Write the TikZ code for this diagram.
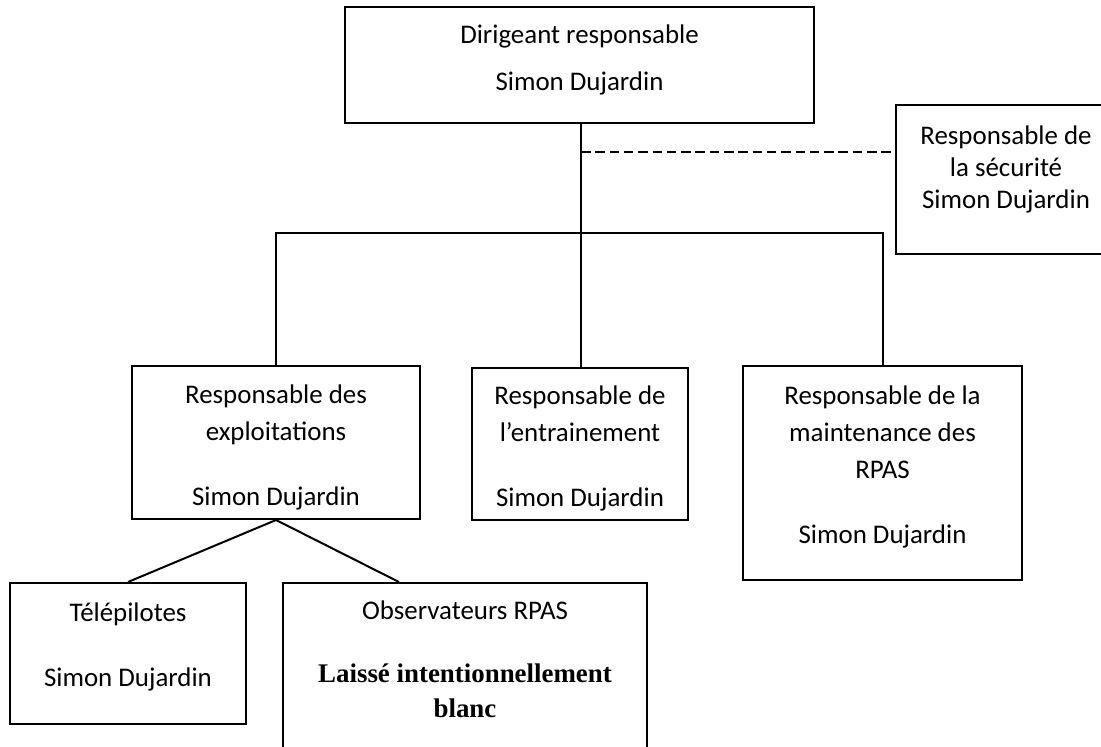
\documentclass[tikz,border=0pt]{standalone}
\usepackage{fontspec}
\setmainfont{Carlito}
\newfontfamily\serifbold{Liberation Serif}
\usetikzlibrary{positioning}

% invisible struts to move the text inside a box
\newcommand\liftbox[1]{\rule[-#1]{0pt}{0pt}}
\newcommand\sinkbox[1]{\rule{0pt}{#1}}

\begin{document}
\begin{tikzpicture}[x=0.5pt, y=-0.5pt,
		box/.style={draw, line width=1pt, align=center, inner sep=0pt,
			font=\fontsize{13.45}{18.5}\selectfont},
		link/.style={line width=1pt}]
		\useasboundingbox (0,0) rectangle (1101,746);
		\clip (0,0) rectangle (1101,746);

		\node[box, minimum width=234.5pt, minimum height=58pt]   (dirig)    at (579.5,65)   {Dirigeant responsable\\[5pt]Simon Dujardin\liftbox{7.5pt}};
		\node[box, minimum width=110pt, minimum height=74.5pt]   (secu)     at (1006,179.5) {Responsable de\\[-2.5pt]la sécurité\\[-2.5pt]Simon Dujardin\liftbox{12.5pt}};
		\node[box, minimum width=144pt, minimum height=76.5pt]   (exploit)  at (276,442.5)  {\sinkbox{14.6pt}Responsable des\\exploitations\\[14pt]Simon Dujardin};
		\node[box, minimum width=108pt, minimum height=76pt]     (entrain)  at (580,444)    {\sinkbox{13.6pt}Responsable de\\l’entrainement\\[14pt]Simon Dujardin};
		\node[box, minimum width=139.5pt, minimum height=107pt]  (maint)    at (882.5,473)  {Responsable de la\\maintenance des\\RPAS\\[14pt]Simon Dujardin\liftbox{8pt}};
		\node[box, minimum width=118pt, minimum height=70.5pt]   (telepil)  at (128,653.5)  {Télépilotes\\[14pt]Simon Dujardin\liftbox{8.5pt}};
		\node[box, minimum width=182pt, minimum height=103.5pt]  (observ)   at (465,686.5)  {Observateurs RPAS\\[13pt]{\serifbold\bfseries Laissé intentionnellement}\\[-1pt]{\serifbold\bfseries blanc}\liftbox{27pt}};

		\coordinate (split) at (581,233);
		\coordinate (tap)   at (581,152);

		\draw[link] (dirig.south -| split) -- (split);
		\draw[line width=0.8pt, dash pattern=on 4.75pt off 2.4pt] (tap) -- (secu.west |- tap);
		\draw[link] (exploit.north) |- (split) -| (maint.north);
		\draw[link] (split) -- (entrain.north -| split);
		\draw[link] (exploit.south) -- (telepil.north);
		\draw[link] (exploit.south) -- ([xshift=-33pt]observ.north);
\end{tikzpicture}
\end{document}
